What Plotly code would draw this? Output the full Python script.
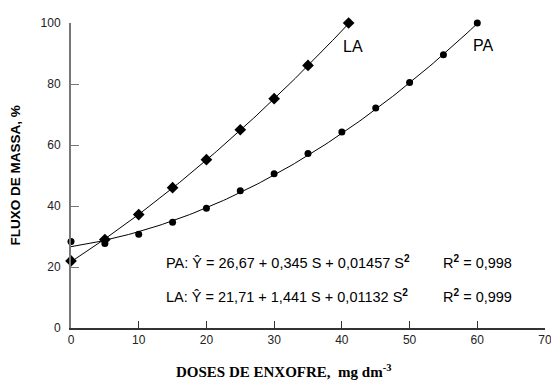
import plotly.graph_objects as go

# Observed data
doses_pa = [0, 5, 10, 15, 20, 25, 30, 35, 40, 45, 50, 55, 60]
fluxo_pa = [28.4, 27.7, 30.7, 34.7, 39.3, 45.0, 50.6, 57.2, 64.3, 72.1, 80.5, 89.6, 100.0]
doses_la = [0, 5, 10, 15, 20, 25, 30, 35, 41]
fluxo_la = [22.0, 29.0, 37.2, 46.0, 55.2, 65.0, 75.2, 86.1, 100.0]

# Regression coefficients printed on the chart (b0, b1, b2)
coef_pa = [26.67, 0.345, 0.01457]
coef_la = [21.71, 1.441, 0.01132]

x_ticks = [0, 10, 20, 30, 40, 50, 60, 70]
y_ticks = [0, 20, 40, 60, 80, 100]


def fit_curve(coef, xmax, n=120):
    xs = [xmax * i / n for i in range(n + 1)]
    ys = [coef[0] + coef[1] * x + coef[2] * x * x for x in xs]
    return xs, ys


fig = go.Figure()

for coef, xs_obs in ((coef_pa, doses_pa), (coef_la, doses_la)):
    cx, cy = fit_curve(coef, xs_obs[-1])
    fig.add_trace(go.Scatter(x=cx, y=cy, mode="lines",
                             line=dict(color="black", width=1),
                             hoverinfo="skip", showlegend=False, cliponaxis=False))

fig.add_trace(go.Scatter(x=doses_pa, y=fluxo_pa, mode="markers", name="PA",
                         marker=dict(symbol="circle", size=7, color="black"),
                         showlegend=False, cliponaxis=False))
fig.add_trace(go.Scatter(x=doses_la, y=fluxo_la, mode="markers", name="LA",
                         marker=dict(symbol="diamond", size=9, color="black"),
                         showlegend=False, cliponaxis=False))

eq_font = dict(family="Liberation Sans, Arial, sans-serif", size=14.5, color="black")
annotations = [
    dict(x=41.6, y=92.4, text="LA", showarrow=False, xanchor="center", yanchor="middle",
         font=dict(family="Liberation Sans, Arial, sans-serif", size=16, color="black")),
    dict(x=60.9, y=92.7, text="PA", showarrow=False, xanchor="center", yanchor="middle",
         font=dict(family="Liberation Sans, Arial, sans-serif", size=16, color="black")),
    dict(x=13.8, y=21.5, text="PA: Ŷ = 26,67 + 0,345 S + 0,01457 S<sup><b>2</b></sup>",
         showarrow=False, xanchor="left", yanchor="middle", font=eq_font),
    dict(x=54.7, y=21.5, text="R<sup><b>2</b></sup> = 0,998",
         showarrow=False, xanchor="left", yanchor="middle", font=eq_font),
    dict(x=13.8, y=10.4, text="LA: Ŷ = 21,71 + 1,441 S + 0,01132 S<sup><b>2</b></sup>",
         showarrow=False, xanchor="left", yanchor="middle", font=eq_font),
    dict(x=54.7, y=10.4, text="R<sup><b>2</b></sup> = 0,999",
         showarrow=False, xanchor="left", yanchor="middle", font=eq_font),
    dict(x=0.448, y=-0.105, xref="paper", yref="paper",
         text="<b>DOSES DE ENXOFRE,  mg dm<sup>-3</sup></b>",
         showarrow=False, xanchor="center", yanchor="top",
         font=dict(family="Liberation Serif, Times New Roman, serif", size=15, color="black")),
    dict(x=-0.118, y=0.5, xref="paper", yref="paper",
         text="<b>FLUXO DE MASSA, %</b>", textangle=-90,
         showarrow=False, xanchor="center", yanchor="middle",
         font=dict(family="Liberation Sans, Arial, sans-serif", size=13.5, color="black")),
]

fig.update_layout(
    width=551, height=382,
    margin=dict(l=71, r=6, t=23, b=54, autoexpand=False),
    paper_bgcolor="white", plot_bgcolor="white",
    annotations=annotations,
    font=dict(family="Liberation Sans, Arial, sans-serif", size=12, color="#222"),
)
fig.update_xaxes(range=[0, 70], tickvals=x_ticks, ticktext=[str(v) for v in x_ticks],
                 showgrid=False, zeroline=False, showline=True, linecolor="#333", linewidth=2,
                 ticks="inside", ticklen=7, tickwidth=1, tickcolor="#333",
                 ticklabeloverflow="allow", automargin=False,
                 tickfont=dict(size=12, color="#222"))
fig.update_yaxes(range=[0, 100], tickvals=y_ticks, ticktext=[str(v) for v in y_ticks],
                 showgrid=False, zeroline=False, showline=True, linecolor="#777", linewidth=2,
                 ticks="inside", ticklen=8, tickwidth=1, tickcolor="#777",
                 ticklabelstandoff=6, ticklabeloverflow="allow", automargin=False,
                 tickfont=dict(size=12, color="#222"))

fig.write_html("out.html", config={"displayModeBar": False},
               post_script="document.body.style.margin='0';document.body.style.padding='0';")
